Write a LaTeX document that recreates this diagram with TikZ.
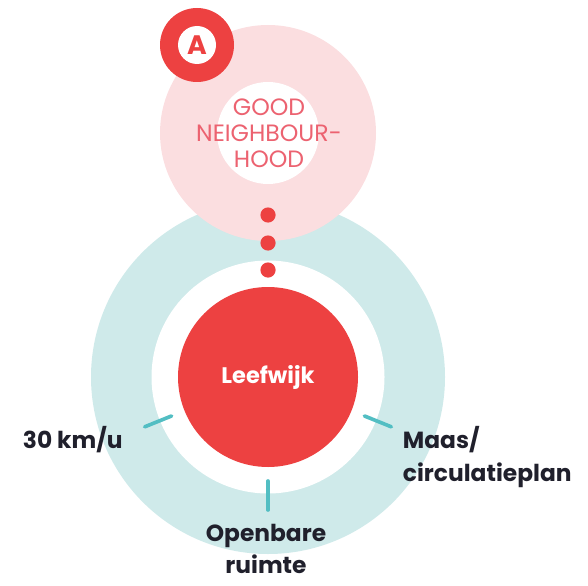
\documentclass[tikz,border=0pt]{standalone}
\usepackage{fontspec}
\setmainfont{Poppins}
\usepackage{tikz}
\usetikzlibrary{positioning,calc}
\definecolor{leefred}{RGB}{237,65,65}
\definecolor{pinkring}{RGB}{251,222,224}
\definecolor{pinktext}{RGB}{236,98,112}
\definecolor{tealring}{RGB}{207,234,234}
\definecolor{tickcol}{RGB}{82,190,195}
\definecolor{labelcol}{RGB}{32,32,44}

\begin{document}
\begin{tikzpicture}[
  disc/.style={circle, fill=#1, inner sep=0pt},
  dot/.style={circle, fill=leefred, inner sep=0pt, minimum size=0.38cm},
  tick/.style={draw=tickcol, line width=2.6pt, line cap=round},
  lbl/.style={font=\fontsize{16.6}{23.5}\selectfont\bfseries, text=labelcol},
]
\useasboundingbox (0,0) rectangle (14.7,14.625);

% teal ring with Leefwijk
\node[disc=tealring, minimum size=8.85cm]  (outer) at (6.7,5.2) {};
\node[disc=white,    minimum size=5.825cm] (inner) at (outer.center) {};
\node[disc=leefred,  minimum size=4.5cm, text=white,
      font=\fontsize{16}{19}\selectfont\bfseries] (leef) at (outer.center) {Leefwijk};

% pink ring on top
\node[disc=pinkring, minimum size=5.4cm]  (good)   at (6.7,11.3) {};
\node[disc=white,    minimum size=2.55cm] (goodin) at (good.center) {};
\node[text=pinktext, align=center, font=\fontsize{16.8}{18.5}\selectfont]
    (goodtxt) at (6.725,11.29) {GOOD\\NEIGHBOUR-\\HOOD};

% badge
\node[disc=leefred, minimum size=1.85cm] (badge) at (4.925,13.5) {};
\node[disc=white, minimum size=0.95cm, text=leefred,
      font=\fontsize{19}{21}\selectfont\bfseries] (badgein) at (badge.center) {A};

\foreach \y [count=\i] in {9.25,8.55,7.875}
  \node[dot] (dot\i) at (6.7,\y) {};

\foreach \a in {202,270,338}
  \draw[tick] ($(leef.center)+(\a:2.6)$) -- ($(leef.center)+(\a:3.325)$);

% labels
\node[lbl, anchor=base west] (speed) at (0.45,3.425) {30 km/u};
\node[lbl, anchor=west, align=left] (maas) at (9.95,3.2) {Maas/\\circulatieplan};
\node[lbl, align=center, font=\fontsize{16.6}{22.8}\selectfont\bfseries]
    (ruimte) at (6.65,0.9) {Openbare\\ruimte};
\end{tikzpicture}
\end{document}
